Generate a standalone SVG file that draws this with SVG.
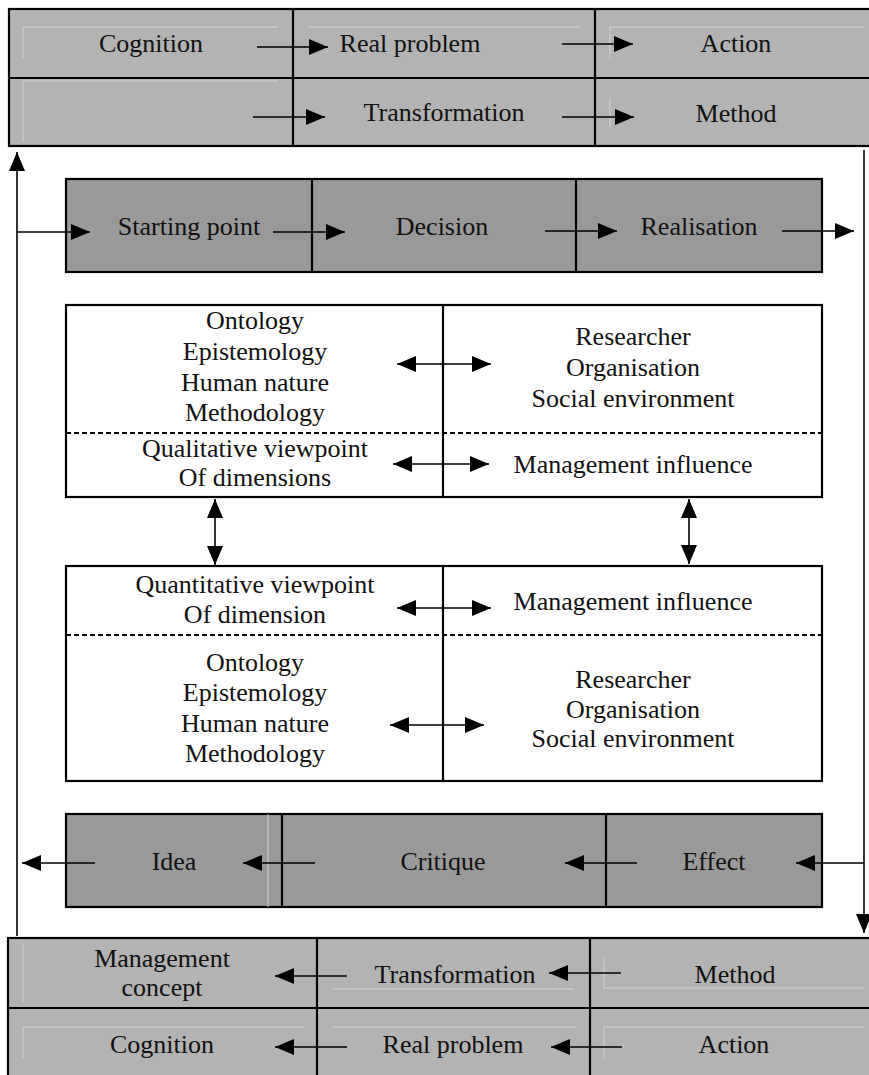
<svg xmlns="http://www.w3.org/2000/svg" width="869" height="1075" viewBox="0 0 869 1075">
<style>
.t{font-family:"Liberation Serif","Times New Roman",serif;font-size:26px;fill:#111;text-anchor:middle}
.lt{fill:#b3b3b3;stroke:#000;stroke-width:2.2}
.dk{fill:#999;stroke:#000;stroke-width:2.2}
.wb{fill:#fff;stroke:#000;stroke-width:2.2}
.ln{stroke:#000;stroke-width:2.2;fill:none}
.dash{stroke:#000;stroke-width:2.2;stroke-dasharray:5,3;fill:none}
.faint{stroke:#d2d2d2;stroke-width:1;fill:none}
.faintw{stroke:#cfcfcf;stroke-width:1;fill:none}
.c{stroke:#000;stroke-width:1.6;fill:none;marker-end:url(#ah)}
.cc{stroke:#000;stroke-width:1.6;fill:none;marker-end:url(#ah);marker-start:url(#ah)}
</style>
<defs>
<marker id="ah" markerUnits="userSpaceOnUse" markerWidth="19" markerHeight="16" refX="19" refY="8" orient="auto-start-reverse">
<path d="M0,0 L19,8 L0,16 z" fill="#000"/>
</marker>
</defs>

<g id="top-block">
<rect class="lt" x="9" y="9" width="870" height="137"/>
<line class="ln" x1="9" y1="78" x2="869" y2="78"/>
<line class="ln" x1="293" y1="9" x2="293" y2="146"/>
<line class="ln" x1="595" y1="9" x2="595" y2="146"/>
<path class="faint" d="M23,58 V27 H278 M308,27 H581 M610,58 V27 H864 M23,142 V81 H278 M610,128 V98"/>
<text class="t" x="151" y="52">Cognition</text>
<text class="t" x="410" y="52">Real problem</text>
<text class="t" x="736" y="52">Action</text>
<text class="t" x="444" y="121">Transformation</text>
<text class="t" x="736" y="122">Method</text>
</g>

<g id="start-band">
<rect class="dk" x="66" y="179" width="756" height="93"/>
<line class="ln" x1="312" y1="179" x2="312" y2="272"/>
<line class="ln" x1="576" y1="179" x2="576" y2="272"/>
<text class="t" x="189" y="235">Starting point</text>
<text class="t" x="442" y="235">Decision</text>
<text class="t" x="699" y="235">Realisation</text>
</g>

<g id="qualitative-box">
<rect class="wb" x="66" y="305" width="756" height="192"/>
<line class="ln" x1="443" y1="305" x2="443" y2="497"/>
<line class="dash" x1="66" y1="433" x2="822" y2="433"/>
<text class="t" x="255" y="329">Ontology</text>
<text class="t" x="255" y="360">Epistemology</text>
<text class="t" x="255" y="391">Human nature</text>
<text class="t" x="255" y="421">Methodology</text>
<text class="t" x="633" y="345">Researcher</text>
<text class="t" x="633" y="376">Organisation</text>
<text class="t" x="633" y="407">Social environment</text>
<text class="t" x="255" y="457">Qualitative viewpoint</text>
<text class="t" x="255" y="486">Of dimensions</text>
<text class="t" x="633" y="473">Management influence</text>
</g>

<g id="quantitative-box">
<rect class="wb" x="66" y="566" width="756" height="215"/>
<line class="ln" x1="443" y1="566" x2="443" y2="781"/>
<line class="dash" x1="66" y1="635" x2="822" y2="635"/>
<text class="t" x="255" y="593">Quantitative viewpoint</text>
<text class="t" x="255" y="623">Of dimension</text>
<text class="t" x="633" y="610">Management influence</text>
<text class="t" x="255" y="671">Ontology</text>
<text class="t" x="255" y="701">Epistemology</text>
<text class="t" x="255" y="732">Human nature</text>
<text class="t" x="255" y="762">Methodology</text>
<text class="t" x="633" y="688">Researcher</text>
<text class="t" x="633" y="718">Organisation</text>
<text class="t" x="633" y="747">Social environment</text>
</g>

<g id="idea-band">
<rect class="dk" x="66" y="814" width="756" height="93"/>
<line class="faintw" x1="268" y1="814" x2="268" y2="907"/>
<line class="ln" x1="282" y1="814" x2="282" y2="907"/>
<line class="ln" x1="606" y1="814" x2="606" y2="907"/>
<text class="t" x="174" y="870">Idea</text>
<text class="t" x="443" y="870">Critique</text>
<text class="t" x="714" y="870">Effect</text>
</g>

<g id="bottom-block">
<rect class="lt" x="8" y="938" width="870" height="150"/>
<line class="ln" x1="8" y1="1008" x2="869" y2="1008"/>
<line class="ln" x1="317" y1="938" x2="317" y2="1075"/>
<line class="ln" x1="590" y1="938" x2="590" y2="1075"/>
<path class="faint" d="M23,943 V1002 M333,989 H574 M604,958 V988 H864 M23,1058 V1027 H303 M333,1027 H576 M604,1058 V1027 H864"/>
<text class="t" x="162" y="967">Management</text>
<text class="t" x="162" y="996">concept</text>
<text class="t" x="455" y="983">Transformation</text>
<text class="t" x="735" y="983">Method</text>
<text class="t" x="162" y="1053">Cognition</text>
<text class="t" x="453" y="1053">Real problem</text>
<text class="t" x="734" y="1053">Action</text>
</g>

<g id="connectors">
<line class="c" x1="257" y1="47" x2="328" y2="47"/>
<line class="c" x1="562" y1="44" x2="633" y2="44"/>
<line class="c" x1="253" y1="117" x2="325" y2="117"/>
<line class="c" x1="562" y1="117" x2="634" y2="117"/>
<line class="c" x1="17" y1="936" x2="17" y2="152"/>
<line class="c" x1="17" y1="232" x2="90" y2="232"/>
<line class="c" x1="273" y1="232" x2="345" y2="232"/>
<line class="c" x1="545" y1="231" x2="617" y2="231"/>
<line class="c" x1="782" y1="231" x2="854" y2="231"/>
<line class="c" x1="864" y1="150" x2="864" y2="933"/>
<line class="cc" x1="397" y1="364" x2="491" y2="364"/>
<line class="cc" x1="393" y1="464" x2="489" y2="464"/>
<line class="cc" x1="215" y1="499" x2="215" y2="565"/>
<line class="cc" x1="689" y1="499" x2="689" y2="564"/>
<line class="cc" x1="397" y1="608" x2="491" y2="608"/>
<line class="cc" x1="390" y1="725" x2="484" y2="725"/>
<line class="c" x1="95" y1="863" x2="22" y2="863"/>
<line class="c" x1="315" y1="863" x2="243" y2="863"/>
<line class="c" x1="637" y1="863" x2="565" y2="863"/>
<line class="c" x1="864" y1="863" x2="796" y2="863"/>
<line class="c" x1="347" y1="976" x2="275" y2="976"/>
<line class="c" x1="621" y1="973" x2="549" y2="973"/>
<line class="c" x1="347" y1="1047" x2="275" y2="1047"/>
<line class="c" x1="622" y1="1047" x2="551" y2="1047"/>
</g>
</svg>
